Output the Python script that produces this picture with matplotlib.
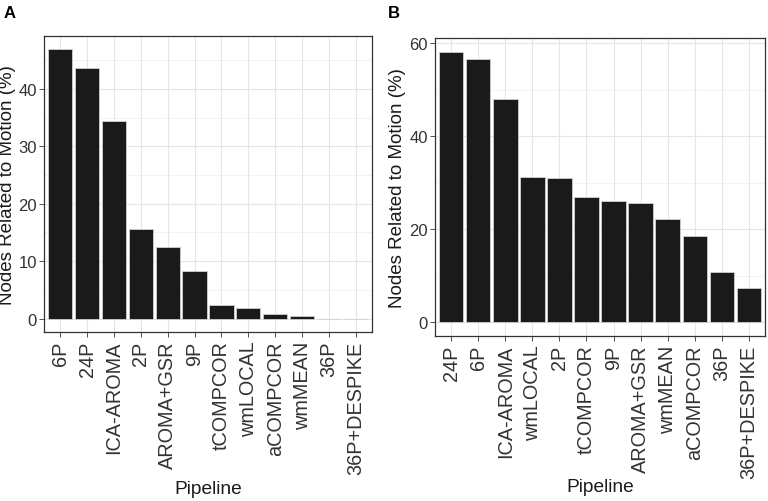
import matplotlib
matplotlib.use('Agg')
import matplotlib.pyplot as plt
from matplotlib.ticker import MultipleLocator

plt.rcParams['font.family'] = ['Liberation Sans', 'DejaVu Sans']

# panel A
pipelines_a = ['6P', '24P', 'ICA-AROMA', '2P', 'AROMA+GSR', '9P', 'tCOMPCOR',
               'wmLOCAL', 'aCOMPCOR', 'wmMEAN', '36P', '36P+DESPIKE']
values_a = [46.9, 43.6, 34.4, 15.6, 12.5, 8.3, 2.3, 1.9, 0.8, 0.4, 0.0, 0.0]

# panel B
pipelines_b = ['24P', '6P', 'ICA-AROMA', 'wmLOCAL', '2P', 'tCOMPCOR', '9P',
               'AROMA+GSR', 'wmMEAN', 'aCOMPCOR', '36P', '36P+DESPIKE']
values_b = [58.2, 56.6, 48.0, 31.3, 31.0, 26.9, 26.1, 25.7, 22.2, 18.5, 10.9, 7.5]

W, H = 768, 502
fig = plt.figure(figsize=(W / 100, H / 100), dpi=100)


def box(x0, y0, x1, y1):
    return [x0 / W, 1 - y1 / H, (x1 - x0) / W, (y1 - y0) / H]


def panel(ax, names, vals, major, minor, ylab_x, xlab_y):
    x = range(len(names))
    ax.bar(x, vals, width=0.9, color='#1a1a1a', edgecolor='#d0d0d0', linewidth=0.6, zorder=3)
    top = max(vals)
    ax.set_ylim(-0.05 * top, top * 1.05)
    ax.set_xlim(-0.6, len(names) - 0.4)
    ax.yaxis.set_major_locator(MultipleLocator(major))
    ax.yaxis.set_minor_locator(MultipleLocator(minor))
    ax.set_xticks(list(x))
    ax.set_xticklabels(names, rotation=90, fontsize=14.3, color='#333333')
    ax.tick_params(axis='y', labelsize=12, labelcolor='#333333', pad=1.5)
    ax.tick_params(axis='x', pad=2.5)
    ax.tick_params(which='major', length=3.5, width=0.6, color='#333333')
    ax.tick_params(which='minor', length=0)
    ax.grid(which='major', color='#e5e5e5', linewidth=0.8, zorder=0)
    ax.grid(which='minor', axis='y', color='#eeeeee', linewidth=0.5, zorder=0)
    ax.set_axisbelow(True)
    for s in ax.spines.values():
        s.set_color('#333333')
        s.set_linewidth(0.9)
    ax.set_ylabel('Nodes Related to Motion (%)', fontsize=13.5, color='#1a1a1a', va='center')
    ax.set_xlabel('Pipeline', fontsize=13.8, color='#1a1a1a', va='center')
    ax.yaxis.set_label_coords(ylab_x, 0.5)
    ax.xaxis.set_label_coords(0.5, xlab_y)


ax1 = fig.add_axes(box(44, 37, 372, 333))
panel(ax1, pipelines_a, values_a, 10, 5, (8 - 44) / 328, (333 - 490) / 296)
ax2 = fig.add_axes(box(435, 39, 765, 337))
panel(ax2, pipelines_b, values_b, 20, 10, (398 - 435) / 330, (337 - 488) / 298)

fig.text(4 / W, 1 - 14 / H, 'A', fontsize=12, fontweight='bold', va='center', ha='left')
fig.text(388 / W, 1 - 14 / H, 'B', fontsize=12, fontweight='bold', va='center', ha='left')

fig.savefig('out.png', dpi=100)
